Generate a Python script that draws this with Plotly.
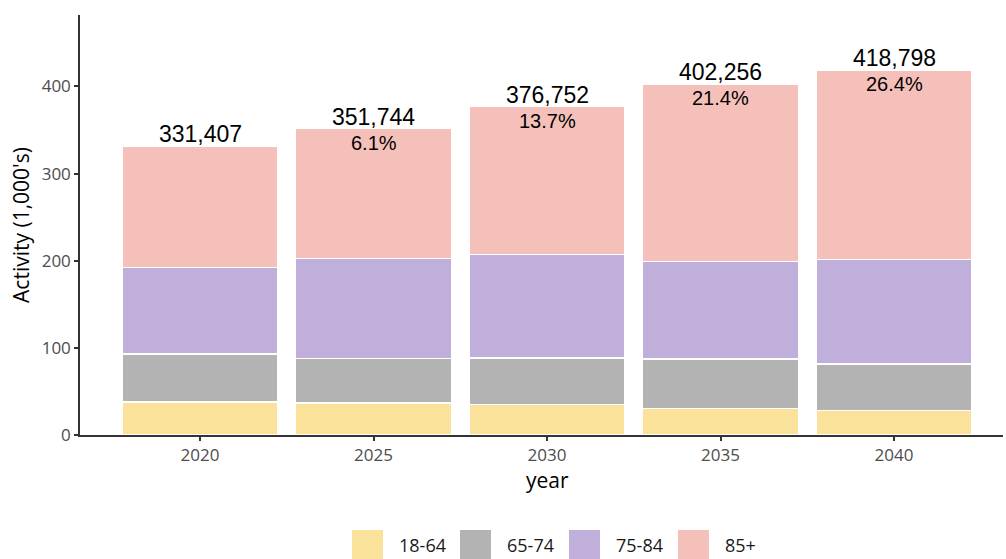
import plotly.graph_objects as go

# Activity by age band, in thousands
years = ["2020", "2025", "2030", "2035", "2040"]
age_bands = ["18-64", "65-74", "75-84", "85+"]
act_18_64 = [38.0, 37.0, 35.0, 30.5, 28.0]
act_65_74 = [55.0, 51.0, 53.5, 57.0, 53.7]
act_75_84 = [99.0, 114.4, 118.5, 111.5, 119.6]
act_85_plus = [139.407, 149.344, 169.752, 203.256, 217.498]
band_colors = ["#FBE29B", "#B3B3B3", "#C0AEDB", "#F6C0BA"]

series = [act_18_64, act_65_74, act_75_84, act_85_plus]
totals = [sum(v) for v in zip(*series)]
base = totals[0]

fig = go.Figure()
for name, vals, col in zip(age_bands, series, band_colors):
    fig.add_trace(go.Bar(
        x=years, y=vals, name=name, width=0.9,
        marker=dict(color=col, line=dict(color="white", width=1.5)),
        showlegend=False, hoverinfo="skip",
    ))

# total labels above each stack, growth vs first year inside the top
label_font = "Liberation Sans, Arial"
for i, tot in enumerate(totals):
    fig.add_annotation(x=i, y=tot, text=f"{round(tot * 1000):,}",
                       showarrow=False, yanchor="bottom", yshift=-3,
                       font=dict(family=label_font, size=23, color="black"))
    if i > 0:
        pct = (tot / base - 1) * 100
        fig.add_annotation(x=i, y=tot, text=f"{pct:.1f}%",
                           showarrow=False, yanchor="top", yshift=-1,
                           font=dict(family=label_font, size=20, color="black"))

# plot-area geometry in pixels, used to place the legend and x title
W, H = 1006, 559
PL, PR, PT, PB = 80, 1003, 15, 435
pw, ph = PR - PL, PB - PT


def px_x(x):
    return (x - PL) / pw


def px_y(y):
    return (PB - y) / ph


# legend drawn as key squares with labels along the bottom
key_x = [352, 460, 569, 678]
for xk, name, col in zip(key_x, age_bands, band_colors):
    fig.add_shape(type="rect", xref="paper", yref="paper",
                  x0=px_x(xk), x1=px_x(xk + 31),
                  y0=px_y(530), y1=px_y(559),
                  fillcolor=col, line=dict(width=0))
    fig.add_annotation(xref="paper", yref="paper",
                       x=px_x(xk + 45), y=px_y(545),
                       text=name, showarrow=False, xanchor="left", yanchor="middle",
                       font=dict(family="Open Sans", size=18, color="#1a1a1a"))

# x-axis title
fig.add_annotation(xref="paper", yref="paper", x=px_x(547), y=px_y(480),
                   text="year", showarrow=False, xanchor="center", yanchor="middle",
                   font=dict(family="Open Sans", size=21, color="black"))

fig.update_layout(
    barmode="stack",
    width=W, height=H,
    margin=dict(l=PL, r=W - PR, t=PT, b=H - PB),
    paper_bgcolor="white", plot_bgcolor="white",
    font=dict(family="Open Sans", color="#4d4d4d"),
    xaxis=dict(type="category", range=[-0.692, 4.628], showgrid=False,
               showline=True, linecolor="#333333", linewidth=1.5,
               ticks="outside", ticklen=4, tickcolor="#333333", tickwidth=1.5,
               tickfont=dict(size=17, color="#4d4d4d")),
    yaxis=dict(range=[0, 482], showgrid=False, zeroline=False,
               showline=True, linecolor="#333333", linewidth=1.5,
               ticks="outside", ticklen=4, tickcolor="#333333", tickwidth=1.5,
               tickvals=[0, 100, 200, 300, 400],
               tickfont=dict(size=17, color="#4d4d4d"),
               title=dict(text="Activity (1,000's)", standoff=6,
                          font=dict(family="Open Sans", size=21, color="black"))),
)

fig.write_html("out.html")
